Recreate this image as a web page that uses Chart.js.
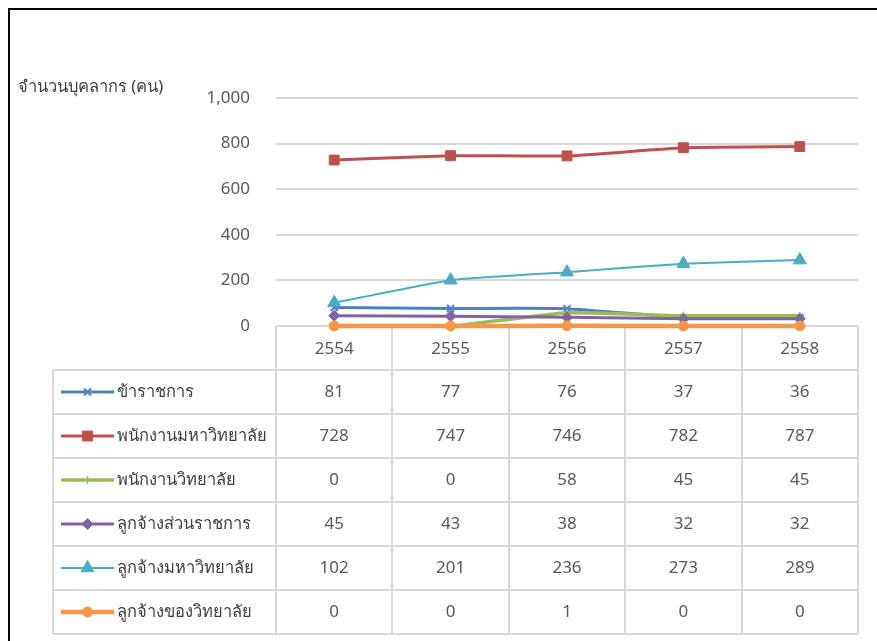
<!DOCTYPE html>
<html>
<head>
<meta charset="utf-8">
<script src="https://cdn.jsdelivr.net/npm/chart.js@4.4.1/dist/chart.umd.min.js"></script>
<style>
  html, body { margin: 0; padding: 0; background: #fff; }
  #wrap { width: 877px; height: 641px; position: relative; }
</style>
</head>
<body>
<div id="wrap"><canvas id="chart" width="877" height="641"></canvas></div>
<script>
const years = ['2554', '2555', '2556', '2557', '2558'];
const seriesNames = [
  'ข้าราชการ',
  'พนักงานมหาวิทยาลัย',
  'พนักงานวิทยาลัย',
  'ลูกจ้างส่วนราชการ',
  'ลูกจ้างมหาวิทยาลัย',
  'ลูกจ้างของวิทยาลัย'
];
const civilServants = [81, 77, 76, 37, 36];
const universityStaff = [728, 747, 746, 782, 787];
const collegeStaff = [0, 0, 58, 45, 45];
const govEmployees = [45, 43, 38, 32, 32];
const universityEmployees = [102, 201, 236, 273, 289];
const collegeEmployees = [0, 0, 1, 0, 0];
const yTicks = [0, 200, 400, 600, 800, 1000];
const yTitle = 'จำนวนบุคลากร (คน)';

const FONT = "'Noto Sans', 'Open Sans', sans-serif";
const GRID = '#d9d9d9';
const TEXT = '#595959';

// series styles, same order as seriesNames
const styles = [
  { color: '#4f81bd', point: 'crossRot', radius: 5, pointBorder: 2, width: 3 },
  { color: '#c0504d', point: 'rect', radius: 7, pointBorder: 1, width: 3 },
  { color: '#9bbb59', point: 'cross', radius: 4, pointBorder: 1.5, width: 3.5 },
  { color: '#8064a2', point: 'rectRot', radius: 5.5, pointBorder: 1, width: 3 },
  { color: '#4bacc6', point: 'triangle', radius: 7.5, pointBorder: 1, width: 2 },
  { color: '#f79646', point: 'circle', radius: 5, pointBorder: 1, width: 4.5 }
];
const values = [civilServants, universityStaff, collegeStaff, govEmployees, universityEmployees, collegeEmployees];

const datasets = seriesNames.map((name, i) => ({
  label: name,
  data: values[i],
  borderColor: styles[i].color,
  backgroundColor: styles[i].color,
  borderWidth: styles[i].width,
  pointStyle: styles[i].point,
  pointRadius: styles[i].radius,
  pointBorderWidth: styles[i].pointBorder,
  pointBorderColor: styles[i].color,
  pointBackgroundColor: styles[i].color,
  tension: 0.15,
  clip: false,
  order: seriesNames.length - i
}));

const ROW_H = 44;

const frameAndTable = {
  id: 'frameAndTable',
  beforeDatasetsDraw(chart) {
    const ctx = chart.ctx;
    const area = chart.chartArea;
    const n = years.length;
    const colW = (area.right - area.left) / n;
    const top = area.bottom;
    const legendLeft = 53;
    const bottom = top + ROW_H * (seriesNames.length + 1);

    ctx.save();
    // outer black frame
    ctx.strokeStyle = '#000';
    ctx.lineWidth = 2;
    ctx.beginPath();
    ctx.moveTo(9, chart.height + 5);
    ctx.lineTo(9, 9);
    ctx.lineTo(chart.width + 5, 9);
    ctx.stroke();

    // table grid
    ctx.strokeStyle = GRID;
    ctx.lineWidth = 2;
    ctx.beginPath();
    for (let c = 0; c <= n; c++) {
      const cx = Math.round(area.left + c * colW);
      ctx.moveTo(cx, top);
      ctx.lineTo(cx, bottom);
    }
    ctx.moveTo(legendLeft, top + ROW_H);
    ctx.lineTo(legendLeft, bottom);
    for (let r = 1; r <= seriesNames.length + 1; r++) {
      const ry = Math.round(top + r * ROW_H);
      ctx.moveTo(legendLeft, ry);
      ctx.lineTo(area.right, ry);
    }
    ctx.stroke();
    ctx.restore();
  },
  afterDraw(chart) {
    const ctx = chart.ctx;
    const area = chart.chartArea;
    const x = chart.scales.x;
    const top = area.bottom;

    ctx.save();
    ctx.font = '17px ' + FONT;
    ctx.fillStyle = TEXT;
    ctx.textAlign = 'center';
    ctx.textBaseline = 'middle';
    years.forEach((yr, c) => {
      ctx.fillText(yr, x.getPixelForValue(c), top + ROW_H / 2 + 1);
    });

    seriesNames.forEach((name, r) => {
      const cy = top + ROW_H * (r + 1) + ROW_H / 2;
      const st = styles[r];
      // legend sample
      ctx.strokeStyle = st.color;
      ctx.fillStyle = st.color;
      ctx.lineWidth = st.width;
      ctx.beginPath();
      ctx.moveTo(61, cy);
      ctx.lineTo(114, cy);
      ctx.stroke();
      ctx.lineWidth = st.pointBorder;
      Chart.helpers.drawPoint(ctx, {
        pointStyle: st.point,
        radius: st.radius,
        rotation: 0,
        borderWidth: st.pointBorder
      }, 87.5, cy);
      // name
      ctx.font = '16.5px ' + FONT;
      ctx.fillStyle = '#404040';
      ctx.textAlign = 'left';
      ctx.fillText(name, 117, cy);
      // values
      ctx.font = '17px ' + FONT;
      ctx.fillStyle = TEXT;
      ctx.textAlign = 'center';
      values[r].forEach((v, c) => {
        ctx.fillText(String(v), x.getPixelForValue(c), cy);
      });
    });

    // y axis title
    ctx.font = '16.5px ' + FONT;
    ctx.fillStyle = '#404040';
    ctx.textAlign = 'left';
    ctx.fillText(yTitle, 18, 87);
    ctx.restore();
  }
};

new Chart(document.getElementById('chart'), {
  type: 'line',
  data: { labels: years, datasets },
  options: {
    responsive: false,
    animation: false,
    layout: { padding: { left: 8, right: 19, top: 98, bottom: 315 } },
    plugins: { legend: { display: false }, tooltip: { enabled: false } },
    scales: {
      x: {
        display: false,
        offset: true
      },
      y: {
        min: 0,
        max: 1000,
        afterBuildTicks: (scale) => { scale.ticks = yTicks.map(v => ({ value: v })); },
        afterFit: (scale) => { scale.width = 268; },
        border: { display: false },
        grid: { color: GRID, lineWidth: 2, drawTicks: false },
        ticks: {
          padding: 26,
          color: TEXT,
          font: { family: FONT, size: 17 },
          callback: (v) => v.toLocaleString('en-US')
        }
      }
    }
  },
  plugins: [frameAndTable]
});
</script>
</body>
</html>
